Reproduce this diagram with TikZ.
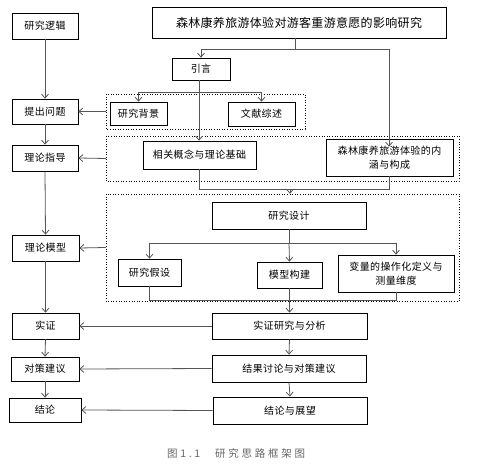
\documentclass[tikz,border=0pt]{standalone}
\usepackage{fontspec}
\setmainfont{Noto Sans CJK SC}
\newfontfamily\cjk[LetterSpace=4]{Noto Sans CJK SC}
\usetikzlibrary{arrows.meta}
\definecolor{lnk}{HTML}{555555}
\tikzset{
  box/.style={draw=black, line width=0.7pt, inner sep=0pt, align=center, font=\cjk\fontsize{10}{14}\selectfont},
  grp/.style={draw=black, dotted, line width=0.6pt},
  lk/.style={draw=lnk, line width=0.8pt},
  arr/.style={lk, -{Straight Barb[length=4pt,width=7pt]}},
}
\begin{document}
\begin{tikzpicture}[x=1pt,y=-1pt]
\useasboundingbox (0,0) rectangle (479,470);
% dotted groups
\draw[grp] (106,94) rectangle (305,129);
\draw[grp] (106,136) rectangle (459,181);
\draw[grp] (106,194) rectangle (459,301);
\node[inner sep=0pt, minimum width=199, minimum height=35] (g1) at (205.5,111.5) {};
\node[inner sep=0pt, minimum width=353, minimum height=45] (g2) at (282.5,158.5) {};
\node[inner sep=0pt, minimum width=353, minimum height=107] (g3) at (282.5,247.5) {};
% left column
\node[box, minimum width=66, minimum height=26] (logic) at (45,26) {研究逻辑};
\node[box, minimum width=66, minimum height=25] (ask) at (45,111.5) {提出问题};
\node[box, minimum width=66, minimum height=26] (guide) at (45,158) {理论指导};
\node[box, minimum width=67, minimum height=26] (tmodel) at (45.5,248) {理论模型};
\node[box, minimum width=67, minimum height=26] (emp) at (45.5,326) {实证};
\node[box, minimum width=68, minimum height=24] (sug) at (45,369) {对策建议};
\node[box, minimum width=72, minimum height=24] (conc) at (45,410) {结论};
% right part
\node[box, minimum width=294, minimum height=31, font=\fontsize{12}{14}\selectfont] (title) at (299,22.5) {\makebox[246pt][s]{森\hfill 林\hfill 康\hfill 养\hfill 旅\hfill 游\hfill 体\hfill 验\hfill 对\hfill 游\hfill 客\hfill 重\hfill 游\hfill 意\hfill 愿\hfill 的\hfill 影\hfill 响\hfill 研\hfill 究}};
\node[box, minimum width=58, minimum height=22] (intro) at (201,69) {引言};
\node[box, minimum width=57, minimum height=23] (bg) at (138.5,113.5) {研究背景};
\node[box, minimum width=67, minimum height=24] (lit) at (261.5,114) {文献综述};
\node[box, minimum width=113, minimum height=28] (concept) at (199.5,155) {相关概念与理论基础};
\node[box, minimum width=127, minimum height=37] (conn) at (389.5,157.5) {森林康养旅游体验的内\\涵与构成};
\node[box, minimum width=154, minimum height=27] (design) at (289,215.5) {研究设计};
\node[box, minimum width=63, minimum height=27] (hyp) at (149.5,272.5) {研究假设};
\node[box, minimum width=65, minimum height=26] (model) at (289.5,275) {模型构建};
\node[box, minimum width=116, minimum height=37] (var) at (396,273.5) {变量的操作化定义与\\测量维度};
\node[box, minimum width=155, minimum height=26] (empR) at (289.5,326) {实证研究与分析};
\node[box, minimum width=154, minimum height=27] (sugR) at (289,368.5) {结果讨论与对策建议};
\node[box, minimum width=154, minimum height=27] (concR) at (290,410.5) {结论与展望};
% caption
\node[text=black!60, font=\fontsize{10.5}{12}\selectfont, anchor=west, inner sep=0pt] (cap) at (167,453) {\makebox[33pt][s]{图\hfill 1\hfill .\hfill 1}\hspace{15pt}\makebox[90pt][s]{研\hfill 究\hfill 思\hfill 路\hfill 框\hfill 架\hfill 图}};
% junction coordinates
\coordinate (t1) at (295,49);
\coordinate (tl) at (intro.north |- t1);
\coordinate (tr) at (389,49);
\coordinate (i1) at (199,92);
\coordinate (il) at (bg.north |- i1);
\coordinate (ir) at (lit.north |- i1);
\coordinate (c1) at (concept.south |- 0,189);
\coordinate (c2) at (conn.south |- 0,189);
\coordinate (cm) at (290,189);
\coordinate (d1) at (design.south |- 0,243);
\coordinate (dl) at (hyp.north |- d1);
\coordinate (dr) at (var.north |- d1);
\coordinate (h1) at (hyp.south |- 0,300);
\coordinate (h2) at (var.south |- 0,300);
\coordinate (hm) at (model.south |- 0,300);
% title branches
\draw[lk] (title.south -| t1) -- (t1);
\draw[lk] (tl) -- (tr);
\draw[arr] (tl) -- (intro.north);
\draw[arr] (tr) -- ([yshift=-8pt]conn.north -| tr);
% intro branches
\draw[arr] (intro.south -| i1) -- (concept.north -| i1);
\draw[lk] (il) -- (ir);
\draw[arr] (il) -- (bg.north);
\draw[arr] (ir) -- (lit.north);
% concept merge
\draw[lk] (concept.south) -- (c1) -- (c2) -- (conn.south);
\draw[arr] (cm) -- (g3.north -| cm);
% design branches
\draw[lk] (design.south) -- (d1);
\draw[lk] (dl) -- (dr);
\draw[arr] (dl) -- (hyp.north);
\draw[arr] (d1) -- (model.north);
\draw[arr] (dr) -- (var.north);
% merge to empirical
\draw[lk] (hyp.south) -- (h1) -- (h2) -- (var.south);
\draw[lk] (model.south) -- (hm);
\draw[arr] (hm) -- (empR.north);
% right column
\draw[arr] (empR.south) -- (sugR.north);
\draw[arr] (sugR.south) -- (concR.north);
% to left
\draw[arr] (g1.west) -- (ask.east);
\draw[arr] (g2.west) -- (guide.east);
\draw[arr] (g3.west) -- (tmodel.east);
\draw[arr] (empR.west) -- (emp.east);
\draw[arr] (sugR.west) -- (sug.east);
\draw[arr] (concR.west) -- (conc.east);
% left column
\draw[arr] (logic.south) -- (ask.north);
\draw[arr] (ask.south) -- (guide.north);
\draw[arr] (guide.south) -- (tmodel.north);
\draw[arr] (tmodel.south) -- (emp.north);
\draw[arr] (emp.south) -- (sug.north);
\draw[arr] (sug.south) -- (conc.north);
\end{tikzpicture}
\end{document}
